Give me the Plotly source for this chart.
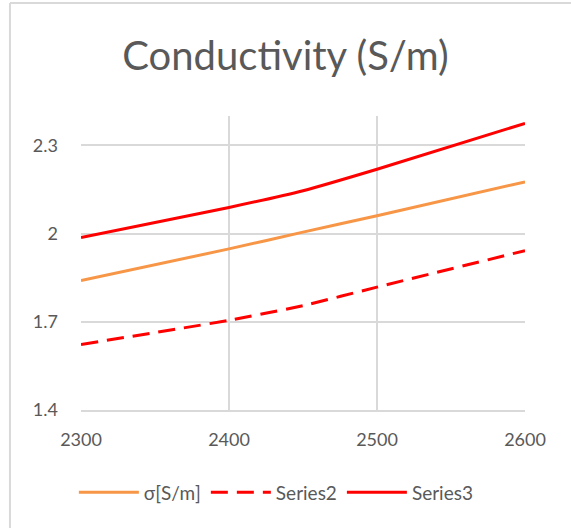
import plotly.graph_objects as go

x_vals = [2300, 2400, 2450, 2500, 2600]
sigma = [1.840, 1.948, 2.005, 2.061, 2.176]
series2 = [1.623, 1.705, 1.755, 1.818, 1.942]
series3 = [1.987, 2.089, 2.146, 2.219, 2.375]
names = ["σ[S/m]", "Series2", "Series3"]
x_ticks = [2300, 2400, 2500, 2600]
y_ticks = [1.4, 1.7, 2.0, 2.3]
y_tick_text = ["1.4", "1.7", "2", "2.3"]

FONT = "Lato"
GRAY = "#595959"
GRID = "#d9d9d9"

fig = go.Figure()
fig.add_trace(go.Scatter(x=x_vals, y=sigma, name=names[0], mode="lines",
                         line=dict(color="#F79646", width=3, shape="spline", smoothing=0.5)))
fig.add_trace(go.Scatter(x=x_vals, y=series2, name=names[1], mode="lines",
                         line=dict(color="#FF0000", width=3, dash="17px,9px", shape="spline", smoothing=0.5)))
fig.add_trace(go.Scatter(x=x_vals, y=series3, name=names[2], mode="lines",
                         line=dict(color="#FF0000", width=3, shape="spline", smoothing=0.5)))

fig.update_layout(
    width=571, height=528,
    margin=dict(l=81, r=46, t=116, b=118),
    paper_bgcolor="white", plot_bgcolor="white",
    font=dict(family=FONT, color=GRAY, size=18),
    title=dict(text="Conductivity (S/m)", x=0.5, xanchor="center", y=0.893, yanchor="middle",
               font=dict(family=FONT, size=40, color=GRAY)),
    showlegend=True,
    legend=dict(orientation="h", x=0.44, xanchor="center", y=-0.28, yanchor="middle",
                font=dict(family=FONT, size=19, color=GRAY), itemwidth=60),
    shapes=[
        dict(type="line", xref="paper", yref="paper", x0=-0.16, x1=-0.16, y0=-0.42, y1=1.384,
             line=dict(color=GRID, width=2)),
        dict(type="line", xref="paper", yref="paper", x0=-0.16, x1=1.2, y0=1.384, y1=1.384,
             line=dict(color=GRID, width=2)),
    ],
)
fig.update_xaxes(range=[2300, 2600], tickvals=x_ticks, showgrid=True, gridcolor=GRID, gridwidth=1.5,
                 showline=True, linecolor=GRID, linewidth=1.5, zeroline=False, ticks="",
                 ticklabelstandoff=13, tickfont=dict(size=18, color=GRAY))
fig.update_yaxes(range=[1.4, 2.4], tickvals=y_ticks, ticktext=y_tick_text, showgrid=True,
                 gridcolor=GRID, gridwidth=1.5, showline=False, zeroline=False, ticks="",
                 ticklabelstandoff=22, tickfont=dict(size=18, color=GRAY))

fig.write_html("out.html")
